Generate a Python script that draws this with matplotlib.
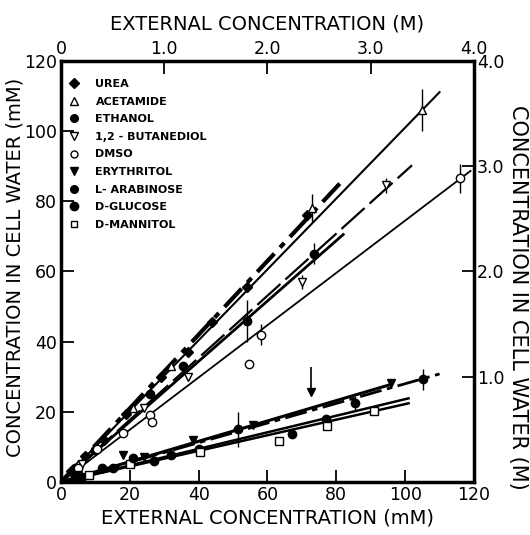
import numpy as np
import matplotlib
matplotlib.use("Agg")
import matplotlib.pyplot as plt
from matplotlib.lines import Line2D

# values (mM, bottom / left scale)
urea_x = [3, 7, 12.5, 19, 29, 37, 44, 54, 71.5]
urea_y = [3, 7.5, 12, 19.5, 30, 37, 45.5, 55.5, 76]
acet_x = [5, 10, 21, 32, 73, 105]
acet_y = [5, 10, 21, 33, 78, 106]
acet_err = [0, 0, 0, 0, 4, 6]
eth_x = [4, 10, 26, 35.5, 54, 73.5]
eth_y = [4, 9, 25, 33, 46, 65]
eth_err = [0, 0, 0, 0, 6, 3]
but_x = [6, 24, 36.8, 70, 94.5]
but_y = [5, 21, 30, 57, 84.5]
but_err = [0, 0, 0, 2, 2]
dmso_x = [5, 10.4, 18, 26, 26.5, 54.7, 58, 116]
dmso_y = [4, 9.5, 14, 19, 17, 33.5, 42, 86.5]
dmso_err = [0, 0, 0, 0, 0, 0, 3, 4]
ery_x = [5, 18, 24, 38.4, 55.7, 72.7, 95.8]
ery_y = [2, 7.7, 7, 12, 16.2, 25.7, 28.1]
ery_up = [0, 0, 0, 0, 0, 7, 0]
arab_x = [4, 12, 21, 32, 51.5, 85.3, 105.3]
arab_y = [1.5, 4, 6.8, 7.7, 15, 22.6, 29.3]
arab_err = [0, 0, 0, 0, 5, 2, 3]
gluc_x = [6, 15, 27, 40, 67, 77]
gluc_y = [1.5, 4, 6, 9.5, 13.6, 18]
mann_x = [8, 20, 40.4, 63.2, 77.4, 91]
mann_y = [2, 5, 8.5, 11.7, 16, 20.2]

# fitted lines: slope and end of line
line_names = ["urea", "acet", "eth", "but", "dmso", "ery", "arab", "gluc", "mann"]
line_slope = [1.05, 1.01, 0.86, 0.885, 0.745, 0.29, 0.28, 0.236, 0.222]
line_xmax = [81, 110, 82, 102, 119, 96, 110, 101, 101]
line_style = [(0, (6, 2, 1.5, 2)), "-", "-", (0, (14, 3)), "-", "-", (0, (8, 2, 2, 2)), "-", "-"]
line_width = [3.0, 1.5, 2.0, 1.6, 1.3, 2.2, 2.0, 1.8, 1.8]

legend_labels = ["UREA", "ACETAMIDE", "ETHANOL", "1,2 - BUTANEDIOL", "DMSO",
                 "ERYTHRITOL", "L- ARABINOSE", "D-GLUCOSE", "D-MANNITOL"]

fig = plt.figure(figsize=(5.30, 5.35), dpi=100)
ax = fig.add_axes([0.1151, 0.0991, 0.7792, 0.787])

for s, xm, ls, lw in zip(line_slope, line_xmax, line_style, line_width):
    ax.plot([0, xm], [0, s * xm], color="black", linestyle=ls, linewidth=lw, zorder=2)

ms = 6
ax.plot(urea_x, urea_y, "D", color="black", ms=5.5, zorder=3)
ax.errorbar(acet_x, acet_y, yerr=acet_err, fmt="^", mfc="white", mec="black", ecolor="black",
            ms=ms, elinewidth=1, capsize=0, zorder=3)
ax.errorbar(eth_x, eth_y, yerr=eth_err, fmt="o", color="black", ms=ms, elinewidth=1, capsize=0, zorder=3)
ax.errorbar(but_x, but_y, yerr=but_err, fmt="v", mfc="white", mec="black", ecolor="black",
            ms=ms, elinewidth=1, capsize=0, zorder=3)
ax.errorbar(dmso_x, dmso_y, yerr=dmso_err, fmt="o", mfc="white", mec="black", ecolor="black",
            ms=ms, elinewidth=1, capsize=0, zorder=3)
ax.errorbar(ery_x, ery_y, yerr=[np.zeros(len(ery_up)), ery_up], fmt="v", color="black", ms=ms,
            elinewidth=1.2, capsize=0, zorder=3)
ax.errorbar(arab_x, arab_y, yerr=arab_err, fmt="o", color="black", ms=ms, elinewidth=1, capsize=0, zorder=3)
ax.plot(gluc_x, gluc_y, "o", color="black", ms=ms, zorder=3)
ax.plot(mann_x, mann_y, "s", mfc="white", mec="black", ms=5.5, zorder=3)

ax.set_xlim(0, 120)
ax.set_ylim(0, 120)
ax.set_xticks(np.arange(0, 121, 20))
ax.set_yticks(np.arange(0, 121, 20))
ax.set_xticklabels(["0", "20", "40", "60", "80", "100", "120"])
ax.set_yticklabels(["0", "20", "40", "60", "80", "100", "120"])
ax.tick_params(direction="in", length=9, width=1.3, labelsize=12.5, pad=3)
for sp in ax.spines.values():
    sp.set_linewidth(2.5)

axt = ax.twiny()
axt.set_xlim(0, 4)
axt.set_xticks([0, 1, 2, 3, 4])
axt.set_xticklabels(["0", "1.0", "2.0", "3.0", "4.0"])
axt.tick_params(direction="in", length=9, width=1.3, labelsize=12.5, pad=2)

axr = ax.twinx()
axr.set_ylim(0, 4)
axr.set_yticks([1, 2, 3, 4])
axr.set_yticklabels(["1.0", "2.0", "3.0", "4.0"])
axr.tick_params(direction="in", length=9, width=1.3, labelsize=12.5, pad=2)

ax.set_xlabel("EXTERNAL CONCENTRATION (mM)", fontsize=14, labelpad=3)
axt.set_xlabel("EXTERNAL CONCENTRATION (M)", fontsize=14, labelpad=8)
fig.text(0.028, 0.5, "CONCENTRATION IN CELL WATER (mM)", rotation=90, fontsize=14,
         ha="center", va="center")
fig.text(0.978, 0.445, "CONCENTRATION IN CELL WATER (M)", rotation=270, fontsize=15,
         ha="center", va="center")

handles = [
    Line2D([], [], ls="none", marker="D", color="black", ms=5),
    Line2D([], [], ls="none", marker="^", mfc="white", mec="black", ms=5.5),
    Line2D([], [], ls="none", marker="o", color="black", ms=5.5),
    Line2D([], [], ls="none", marker="v", mfc="white", mec="black", ms=5.5),
    Line2D([], [], ls="none", marker="o", mfc="white", mec="black", ms=5),
    Line2D([], [], ls="none", marker="v", color="black", ms=5.5),
    Line2D([], [], ls="none", marker="o", color="black", ms=5.5),
    Line2D([], [], ls="none", marker="o", color="black", ms=6),
    Line2D([], [], ls="none", marker="s", mfc="white", mec="black", ms=5),
]
ax.legend(handles, legend_labels, loc="upper left", bbox_to_anchor=(0.0, 0.975), frameon=False,
          prop={"size": 8, "weight": "bold"}, handlelength=1.0, handletextpad=1.4,
          labelspacing=0.68, borderaxespad=0.3)

fig.savefig("out.png", dpi=100)
